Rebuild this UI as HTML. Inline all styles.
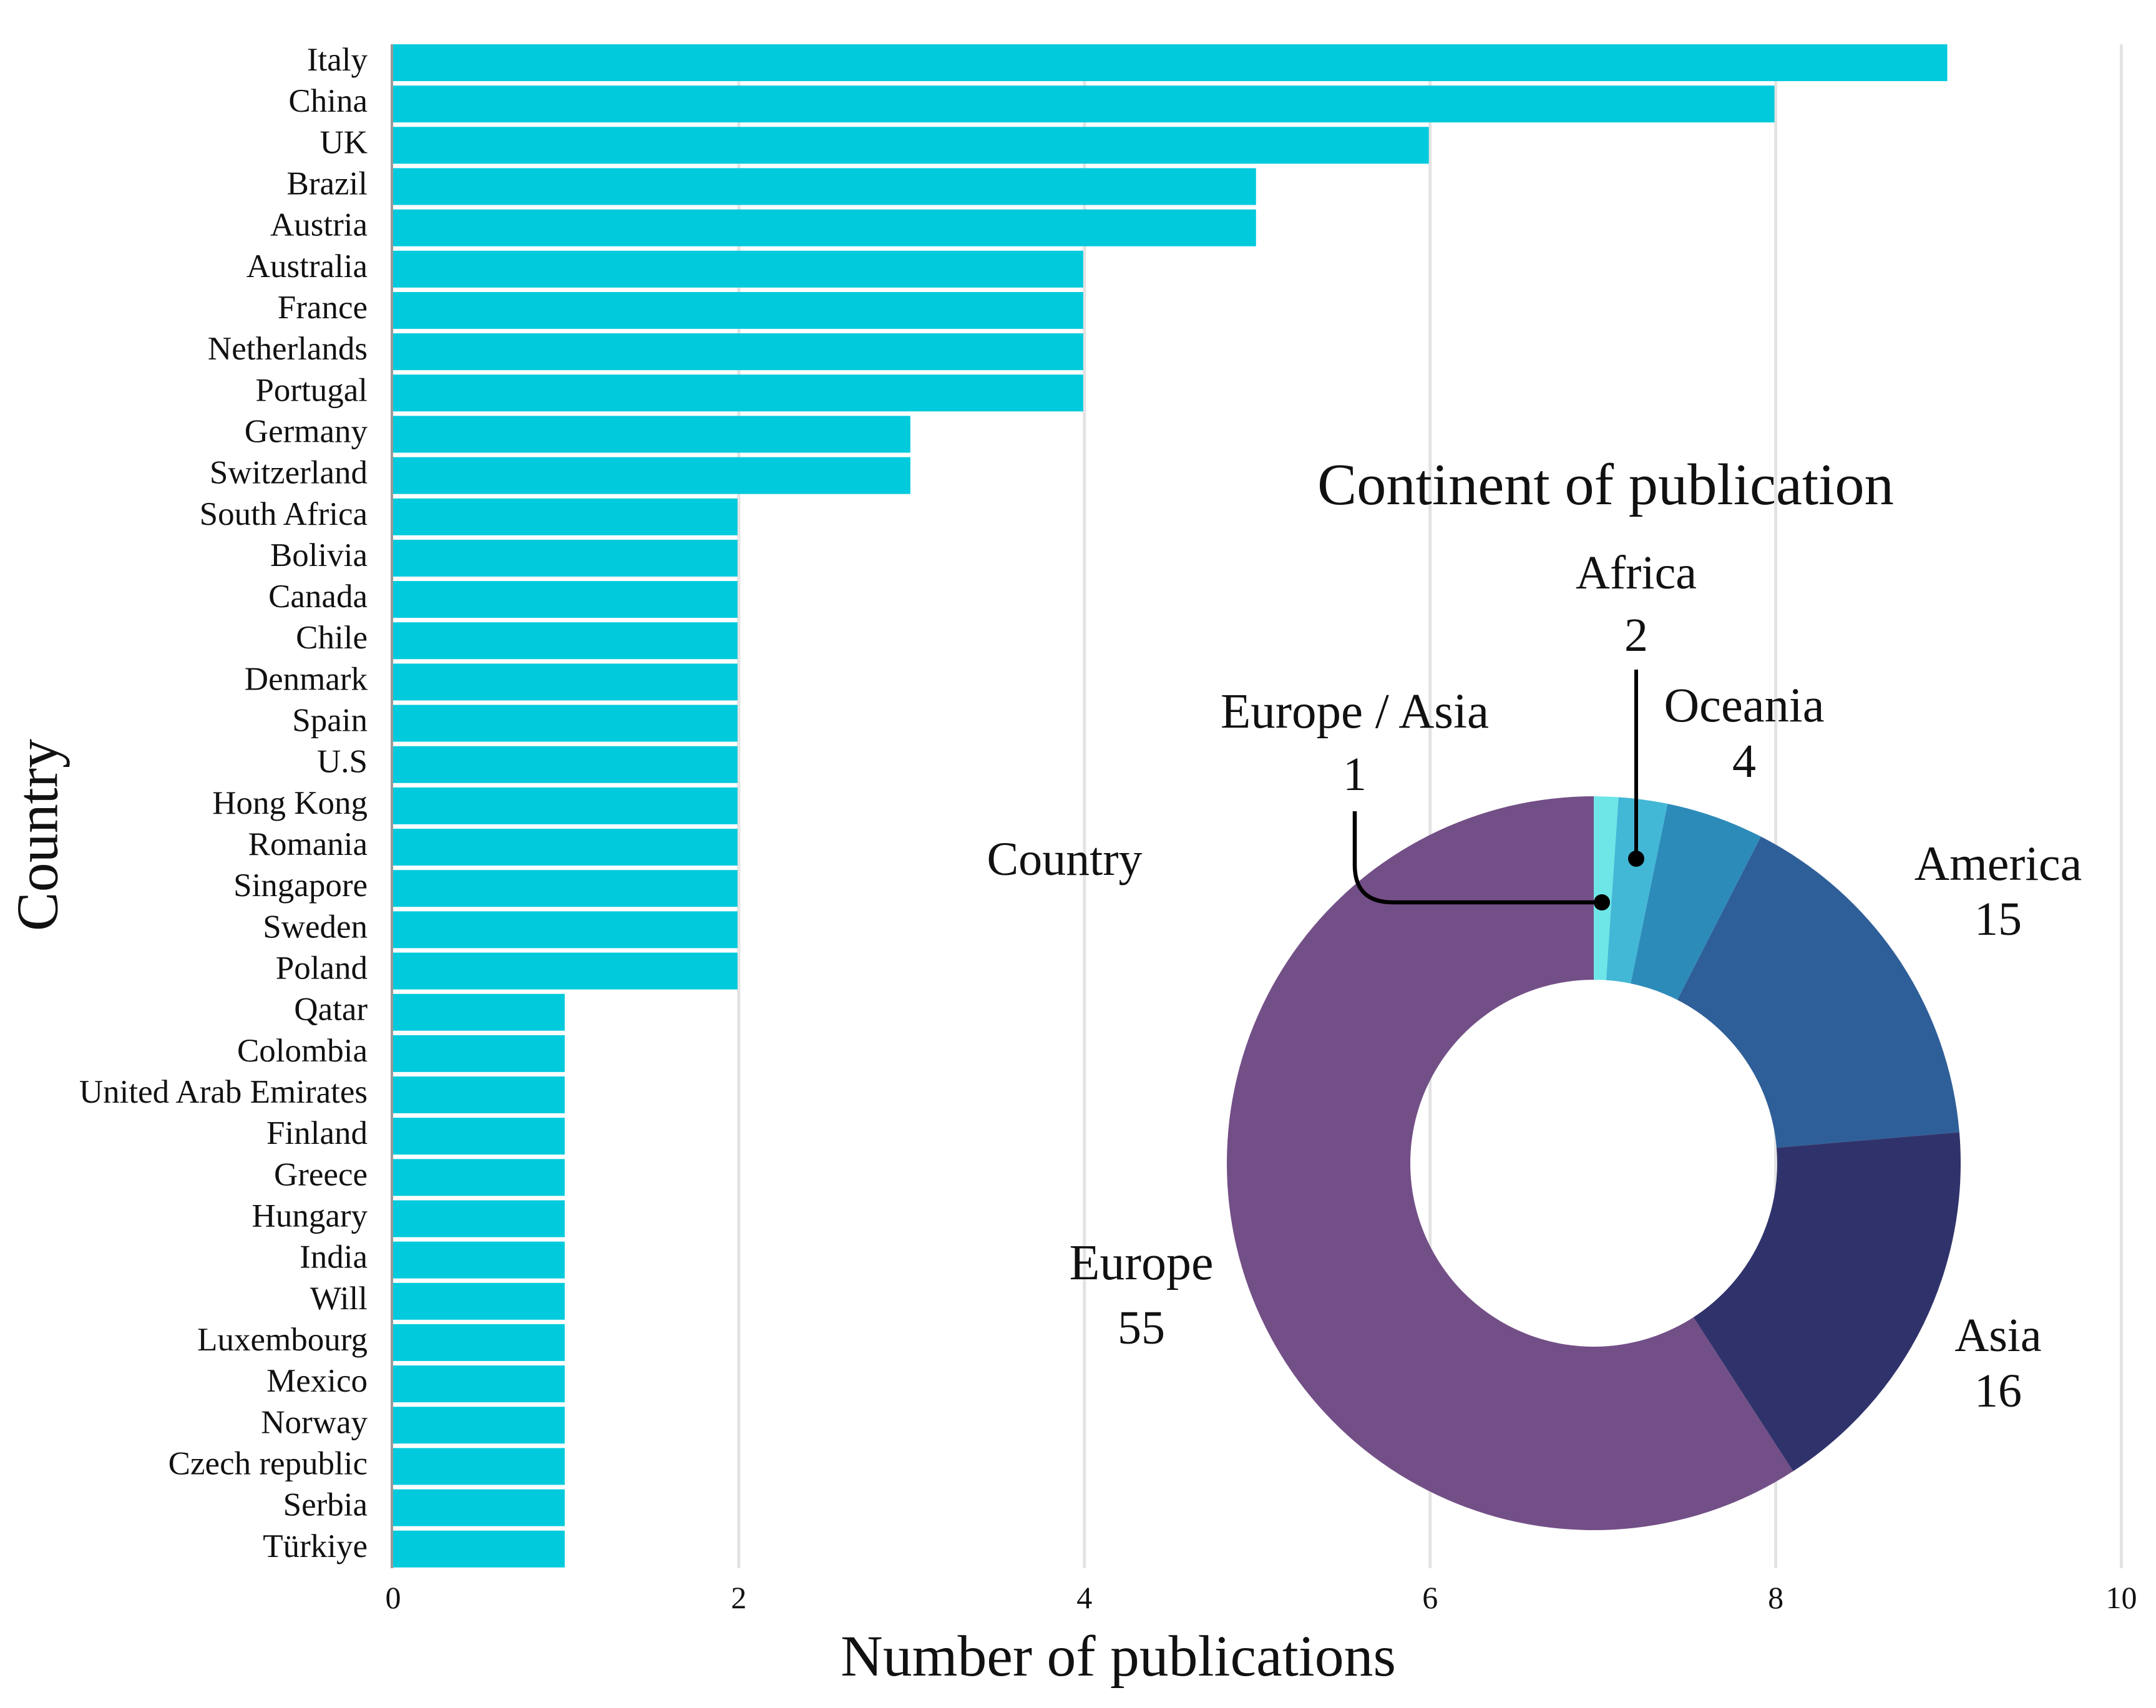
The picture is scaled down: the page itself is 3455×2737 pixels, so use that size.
<!DOCTYPE html>
<html lang="en">
<head>
<meta charset="utf-8">
<title>Publications by country and continent</title>
<style>
html,body{margin:0;padding:0;background:#fff;}
svg{display:block;}
text{font-family:"Liberation Serif","Noto Serif CJK SC",serif;fill:#111;}
</style>
</head>
<body>
<svg id="chart" xmlns="http://www.w3.org/2000/svg" width="3455" height="2737" viewBox="0 0 3455 2737">
  <rect x="0" y="0" width="3455" height="2737" fill="#ffffff"/>
  <g id="grid"></g>
  <g id="bars"></g>
  <rect x="626" y="71" width="4" height="2442" fill="#9a9a9a"/>
  <g id="countryLabels"></g>
  <g id="xTicks"></g>
  <text x="1792" y="2685" font-size="93.7" text-anchor="middle">Number of publications</text>
  <text transform="translate(91.5,1338) rotate(-90)" font-size="94" text-anchor="middle">Country</text>
  <g id="donut"></g>
  <text x="2573" y="808" font-size="94.5" text-anchor="middle">Continent of publication</text>
  <text x="1706" y="1402" font-size="76" text-anchor="middle">Country</text>
  <g id="donutLabels"></g>
  <path d="M2622 1073 V1376" fill="none" stroke="#000" stroke-width="6"/>
  <circle cx="2622" cy="1376" r="13" fill="#000"/>
  <path d="M2171 1300 V1386 Q2171 1446 2232 1446 H2567" fill="none" stroke="#000" stroke-width="6.5"/>
  <circle cx="2567" cy="1446" r="13" fill="#000"/>
</svg>
<script>
const countries = ["Italy","China","UK","Brazil","Austria","Australia","France","Netherlands","Portugal","Germany","Switzerland","South Africa","Bolivia","Canada","Chile","Denmark","Spain","U.S","Hong Kong","Romania","Singapore","Sweden","Poland","Qatar","Colombia","United Arab Emirates","Finland","Greece","Hungary","India","Will","Luxembourg","Mexico","Norway","Czech republic","Serbia","Türkiye"];
const publications = [9,8,6,5,5,4,4,4,4,3,3,2,2,2,2,2,2,2,2,2,2,2,2,1,1,1,1,1,1,1,1,1,1,1,1,1,1];
const xTickValues = [0,2,4,6,8,10];
const continents = ["Europe / Asia","Africa","Oceania","America","Asia","Europe"];
const continentCounts = [1,2,4,15,16,55];

const NS = "http://www.w3.org/2000/svg";
function make(tag, attrs, parent, txt) {
  const el = document.createElementNS(NS, tag);
  for (const k in attrs) el.setAttribute(k, attrs[k]);
  if (txt !== undefined) el.textContent = txt;
  parent.appendChild(el);
  return el;
}
function slug(s) { return s.toLowerCase().replace(/[^a-z0-9\u00c0-\u024f]+/g, "-").replace(/^-|-$/g, ""); }

/* axis functions */
function xScale(v) { return 630 + v * 276.95; }
function rowTop(i) { return 71 + i * 66.16; }
const barHeight = 59;

const gridG = document.getElementById("grid");
const tickG = document.getElementById("xTicks");
xTickValues.forEach(function (t) {
  if (t !== 0) {
    const g = make("line", { x1: xScale(t), x2: xScale(t), y1: 71, y2: 2513, stroke: "#e3e3e3", "stroke-width": 5 }, gridG);
    
    
  }
  const l = make("text", { x: xScale(t), y: 2577, "font-size": 50, "text-anchor": "middle" }, tickG, String(t));
  
  
});

const barG = document.getElementById("bars");
const labG = document.getElementById("countryLabels");
countries.forEach(function (c, i) {
  const b = make("rect", { x: xScale(0), y: rowTop(i), width: xScale(publications[i]) - xScale(0) - 2, height: barHeight, fill: "#00cadc" }, barG);
  
  
  const t = make("text", { x: 589, y: rowTop(i) + 42, "font-size": 53, "text-anchor": "end", fill: "#222" }, labG, c);
  
  
});

/* donut */
const cx = 2554, cy = 1864, R = 588, r = 294;
const sliceColors = ["#6ee6e8", "#43b8d6", "#2d8bba", "#2f5f98", "#30336b", "#734f87"];
const total = continentCounts.reduce(function (a, b) { return a + b; }, 0);
function pt(rad, frac) {
  const a = frac * 2 * Math.PI;
  return [cx + rad * Math.sin(a), cy - rad * Math.cos(a)];
}
const donutG = document.getElementById("donut");
let cum = 0;
continents.forEach(function (name, i) {
  const f0 = cum / total;
  cum += continentCounts[i];
  const f1 = cum / total;
  const large = f1 - f0 > 0.5 ? 1 : 0;
  const a = pt(R, f0), b = pt(R, f1), c = pt(r, f1), d = pt(r, f0);
  const s = make("path", {
    d: "M" + a[0] + " " + a[1] + " A" + R + " " + R + " 0 " + large + " 1 " + b[0] + " " + b[1] +
       " L" + c[0] + " " + c[1] + " A" + r + " " + r + " 0 " + large + " 0 " + d[0] + " " + d[1] + " Z",
    fill: sliceColors[i]
  }, donutG);
  
  
});

/* donut labels: anchor layout is per continent; names and counts come from the arrays above */
function labelLayout(i) {
  switch (i) {
    case 0: return [2171, 1166, 1266, 79];
    case 1: return [2622, 943, 1043, 76];
    case 2: return [2795, 1156, 1245, 78.5];
    case 3: return [3202, 1410, 1498, 78];
    case 4: return [3202, 2165, 2254, 76];
    default: return [1829, 2050, 2153, 80];
  }
}
const dlG = document.getElementById("donutLabels");
continents.forEach(function (name, i) {
  const p = labelLayout(i);
  const n = make("text", { x: p[0], y: p[1], "font-size": p[3], "text-anchor": "middle" }, dlG, name);
  
  
  const v = make("text", { x: p[0], y: p[2], "font-size": 76, "text-anchor": "middle" }, dlG, String(continentCounts[i]));
  
  
});
</script>
</body>
</html>
